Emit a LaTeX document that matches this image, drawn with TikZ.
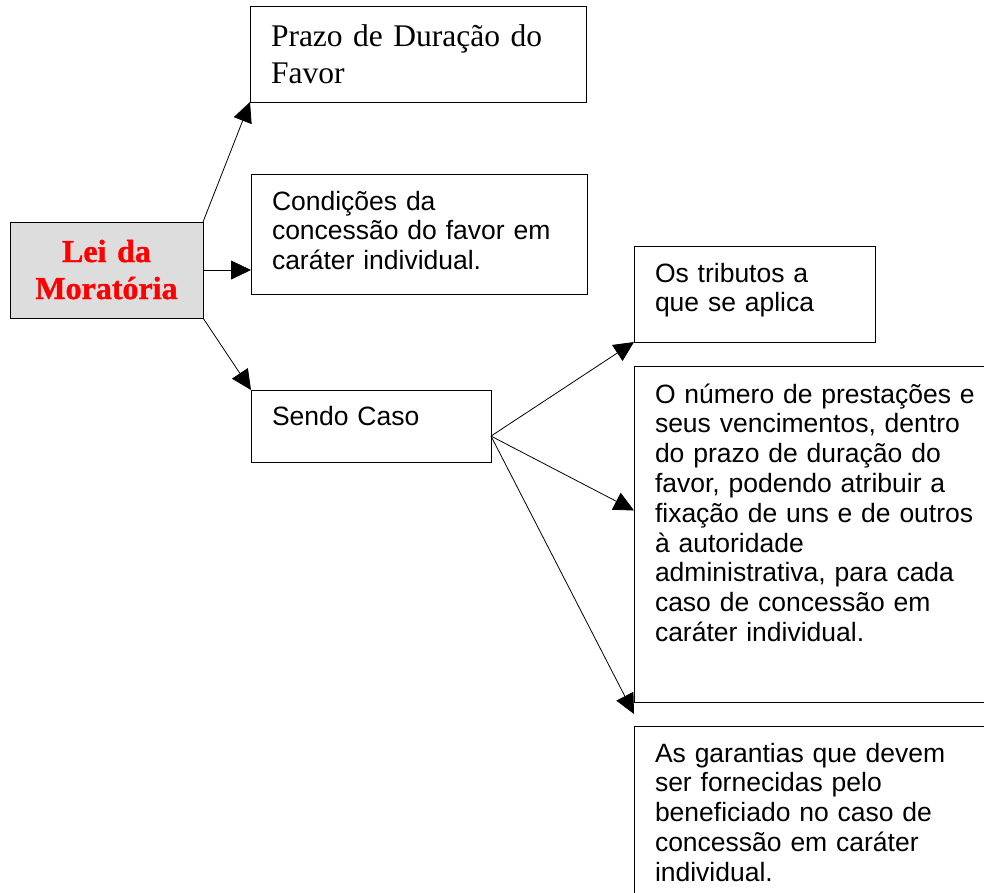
\documentclass[tikz,border=0pt]{standalone}
\usepackage{fontspec}
\setmainfont{Liberation Serif}
\setsansfont{Liberation Sans}
\newfontfamily\leifont{Liberation Serif Bold}[FakeBold=1.2]
\usetikzlibrary{arrows.meta,calc}

\definecolor{leigray}{RGB}{221,221,221}

\begin{document}
\begin{tikzpicture}[
  x=1pt, y=-1pt,
  box/.style={draw=black, line width=1pt, anchor=north west, align=left,
              inner xsep=21pt, inner ysep=0pt, outer sep=0pt,
              font=\sffamily\fontsize{26.5}{29.8}\selectfont},
  serifbox/.style={box, font=\rmfamily\fontsize{31.5}{37}\selectfont},
  lei/.style={box, fill=leigray, align=center, inner xsep=4pt, text=red,
              font=\leifont\fontsize{32}{37}\selectfont},
  arr/.style={-{Triangle[length=20pt,width=19pt]}, draw=black, line width=0.8pt}
]
\useasboundingbox (0,0) rectangle (984,892);
\clip (0,0) rectangle (984,892);

\node[lei, text width=185pt, text height=40pt, text depth=56pt] (lei) at (10,222) {Lei da\\Moratória};
\node[serifbox, text width=294pt, text height=40pt, text depth=56pt] (prazo) at (250,6) {Prazo de Duração do\\Favor};
\node[box, text width=294pt, text height=36pt, text depth=84pt] (cond) at (251,174) {Condições da\\concessão do favor em\\caráter individual.};
\node[box, text width=198pt, text height=35pt, text depth=37pt] (sendo) at (251,390) {Sendo Caso};
\node[box, text width=199pt, text height=36pt, text depth=60pt] (trib) at (634,246) {Os tributos a\\que se aplica};
\node[box, text width=358pt, text height=37pt, text depth=299pt] (num) at (634,366) {O número de prestações e\\seus vencimentos, dentro\\do prazo de duração do\\favor, podendo atribuir a\\fixação de uns e de outros\\à autoridade\\administrativa, para cada\\caso de concessão em\\caráter individual.};
\node[box, text width=358pt, text height=36pt, text depth=200pt] (gar) at (634,726) {As garantias que devem\\ser fornecidas pelo\\beneficiado no caso de\\concessão em caráter\\individual.};

\coordinate (hub) at ($(sendo.south east)!0.36!(sendo.north east)$);
\coordinate (gap) at ($(num.south west)!0.5!(gar.north west)$);

\draw[arr] (lei.north east) -- (prazo.south west);
\draw[arr] (lei.east) -- (lei.east -| cond.west);
\draw[arr] (lei.south east) -- (sendo.north west);
\draw[arr] (hub) -- (trib.south west);
\draw[arr] (hub) -- ($(num.north west)!0.43!(num.south west)$);
\draw[arr] (hub) -- (gap);
\end{tikzpicture}
\end{document}
